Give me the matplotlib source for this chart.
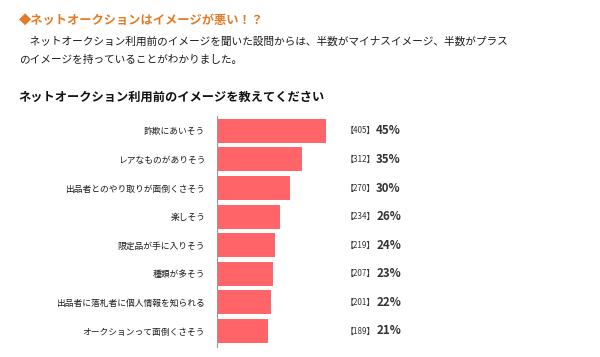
import matplotlib
matplotlib.use("Agg")
import matplotlib.pyplot as plt

plt.rcParams['font.family'] = ['Noto Sans CJK JP', 'DejaVu Sans']

categories = ["詐欺にあいそう", "レアなものがありそう", "出品者とのやり取りが面倒くさそう",
              "楽しそう", "限定品が手に入りそう", "種類が多そう",
              "出品者に落札者に個人情報を知られる", "オークションって面倒くさそう"]
counts = [405, 312, 270, 234, 219, 207, 201, 189]
percents = [45, 35, 30, 26, 24, 23, 22, 21]

heading = "◆ネットオークションはイメージが悪い！？"
body1 = "　ネットオークション利用前のイメージを聞いた設問からは、半数がマイナスイメージ、半数がプラス"
body2 = "のイメージを持っていることがわかりました。"
chart_title = "ネットオークション利用前のイメージを教えてください"

W, H = 600, 357
fig = plt.figure(figsize=(W / 100, H / 100), dpi=100)
fig.patch.set_facecolor("white")

def fx(px):
    return px / W

def fy(py):
    return 1 - py / H

fig.text(fx(19), fy(20), heading, color="#E57A26", fontsize=8.8, fontweight="bold", va="center", ha="left")
fig.text(fx(19), fy(42), body1, color="#1a1a1a", fontsize=7.7, va="center", ha="left")
fig.text(fx(19), fy(60), body2, color="#1a1a1a", fontsize=7.7, va="center", ha="left")
fig.text(fx(18), fy(97), chart_title, color="#111111", fontsize=8.8, fontweight="bold", va="center", ha="left")

ax_left, ax_right = 217, 457
ax_top, ax_bottom = 116, 347
ax = fig.add_axes([fx(ax_left), fy(ax_bottom), (ax_right - ax_left) / W, (ax_bottom - ax_top) / H])
ax.set_facecolor("none")

y = list(range(len(categories)))
ax.barh(y, percents, height=0.84, color="#FF6468", left=0.3)
ax.set_xlim(0, 100)
ax.set_ylim(len(categories) - 1 + 0.56, -0.52)

for s in ["top", "right", "bottom"]:
    ax.spines[s].set_visible(False)
ax.spines["left"].set_color("#999999")
ax.spines["left"].set_linewidth(0.8)
ax.set_xticks([])
ax.set_yticks(y)
ax.set_yticklabels(categories, fontsize=6.3, color="#1a1a1a")
ax.tick_params(axis="y", length=0, pad=8.5)

for yi, c, p in zip(y, counts, percents):
    ax.text(53.5, yi, f"【{c}】", fontsize=5.8, va="center", ha="left", color="#333333")
    ax.text(66.3, yi, f"{p}%", fontsize=8.3, va="center", ha="left", color="#333333", fontweight="bold")

fig.savefig("out.png", dpi=100, facecolor="white")
